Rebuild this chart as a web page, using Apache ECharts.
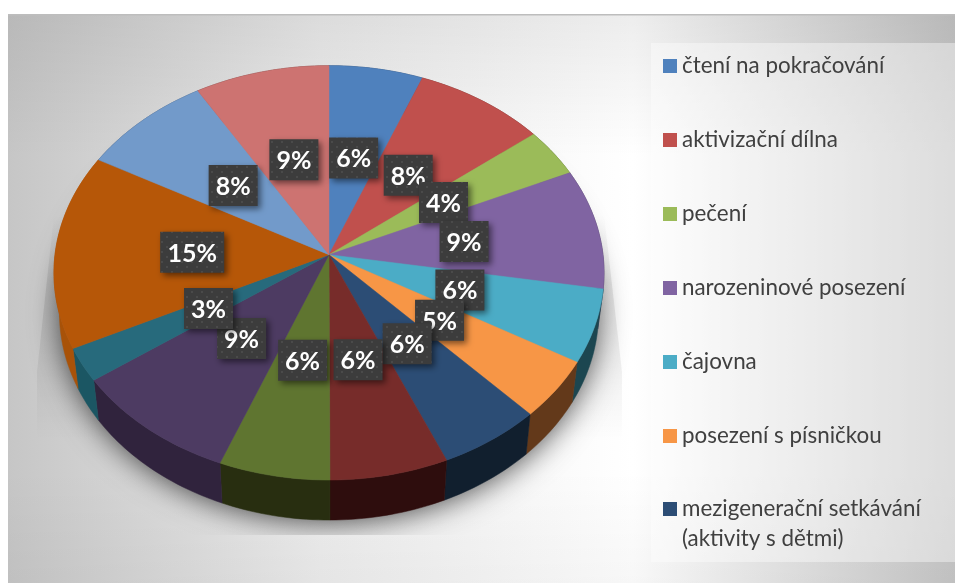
<!DOCTYPE html>
<html><head><meta charset="utf-8">
<style>html,body{margin:0;padding:0;background:#fff}#c{width:955px;height:583px}</style>
<script src="https://cdn.jsdelivr.net/npm/echarts@6/dist/echarts.min.js"></script>
</head><body><div id="c"></div>
<script>
const categories = ['čtení na pokračování','aktivizační dílna','pečení','narozeninové posezení','čajovna','posezení s písničkou','mezigenerační setkávání (aktivity s dětmi)','položka 8','položka 9','položka 10','položka 11','položka 12','položka 13','položka 14'];
const values = [6.0,8.4,3.8,9.4,5.7,4.6,5.6,6.4,6.0,9.2,2.6,15.2,8.4,8.6];
const topColors = ['#4f81bd','#c0504d','#9bbb59','#8064a2','#4bacc6','#f79646','#2c4d75','#772c2a','#5f7530','#4d3b62','#276a7c','#b65708','#729aca','#cd7371'];
const wallColors = ['#2a4566','#672b29','#536431','#453657','#1c4650','#63391a','#111f2e','#2e0d0d','#282e10','#30233d','#1b5663','#a85208','#3d5370','#6e3e3d'];

// Perspective projection of the pie disc
const CX=329, CY=254.7, A=274, B=205.6, K=0.0876, DEPTH=40, BOTTOM_SCALE=0.98;
const total = values.reduce((a,b)=>a+b,0);
const starts = values.reduce((acc,v)=>{acc.push(acc[acc.length-1]+v);return acc;},[0]);
function project(theta,r,wall){
  const X=r*Math.sin(theta), Y=-r*Math.cos(theta), w=1-K*Y;
  const dx=A*X/w, dy=B*Y/w;
  return wall ? [CX+dx*BOTTOM_SCALE, CY+dy+DEPTH] : [CX+dx, CY+dy];
}
function arcPts(t0,t1,r,wall){
  const n=Math.max(2,Math.ceil((t1-t0)/0.02)),p=[];
  for(let i=0;i<=n;i++)p.push(project(t0+(t1-t0)*i/n,r,wall));
  return p;
}
// Dotted texture of the label boxes
const tex=document.createElement('canvas');tex.width=tex.height=10;
(function(){const g=tex.getContext('2d');g.fillStyle='#3c3c3c';g.fillRect(0,0,10,10);
g.fillStyle='#4a4a4a';g.fillRect(1,1,2,2);g.fillRect(6,6,2,2);})();

function makeRender(i){
  return function(params,api){
    const v=api.value(0);
    const t0=starts[i]/total*2*Math.PI, t1=t0+v/total*2*Math.PI;
    const top=arcPts(t0,t1,1,false), bottom=arcPts(t0,t1,1,true).reverse();
    const col=topColors[i];
    const mid=project((t0+t1)/2,0.5,false);
    const bw=String(Math.round(v)).length>1?64:49, bh=41;
    return {type:'group',children:[
      {type:'polygon',z2:1,shape:{points:top.concat(bottom)},style:{fill:wallColors[i],stroke:wallColors[i],lineWidth:0.5}},
      {type:'polygon',z2:10,shape:{points:[[CX,CY]].concat(top)},style:{fill:col,stroke:col,lineWidth:0.5}},
      {type:'rect',z2:20+i*2,shape:{x:mid[0]-bw/2,y:mid[1]-bh/2,width:bw,height:bh},
        style:{fill:{image:tex,repeat:'repeat'},shadowColor:'rgba(0,0,0,0.5)',shadowBlur:6,shadowOffsetX:3,shadowOffsetY:3}},
      {type:'text',z2:21+i*2,style:{x:mid[0],y:mid[1]+1.5,text:Math.round(v)+'%',fill:'#fff',
        font:'bold 25px Lato, Carlito, sans-serif',align:'center',verticalAlign:'middle'}}
    ]};
  };
}
const series=categories.map((name,i)=>({
  type:'custom',name,coordinateSystem:'none',silent:true,animation:false,
  itemStyle:{color:topColors[i]},renderItem:makeRender(i),data:[[values[i]]]
}));

const shadowRim=arcPts(0,2*Math.PI,1,true).map(p=>[CX+(p[0]-CX)*0.995,p[1]-4]);
const legendText={color:'#404040',fontFamily:'Lato, Carlito, sans-serif',fontSize:22.4};
const bgH={type:'linear',global:true,x:8,y:0,x2:955,y2:0,colorStops:[{offset:0,color:'#c6c6c6'},{offset:0.33,color:'#ececec'},{offset:0.66,color:'#ffffff'},{offset:1,color:'#c6c6c6'}]};
const bgV={type:'linear',global:true,x:0,y:15,x2:0,y2:583,colorStops:[{offset:0,color:'rgba(0,0,0,0.07)'},{offset:0.25,color:'rgba(0,0,0,0)'},{offset:0.8,color:'rgba(0,0,0,0)'},{offset:1,color:'rgba(0,0,0,0.03)'}]};
const option={
  animation:false,
  graphic:[
    {type:'rect',z:-10,silent:true,shape:{x:8,y:15,width:947,height:568},style:{fill:bgH}},
    {type:'rect',z:-10,silent:true,shape:{x:8,y:15,width:947,height:568},style:{fill:bgV}},
    {type:'rect',z:-8,silent:true,shape:{x:8,y:14,width:947,height:1.5},style:{fill:'#bdbdbd'}},
    {type:'rect',z:-8,silent:true,shape:{x:651,y:43,width:304,height:519},style:{fill:'rgba(255,255,255,0.4)'}},
    {type:'polygon',z:-7,silent:true,shape:{points:[[54,215],[604,215],[622,372],[622,440],[37,440],[37,372]]},style:{fill:{type:'linear',x:0,y:0,x2:0,y2:1,colorStops:[{offset:0,color:'rgba(0,0,0,0)'},{offset:0.3,color:'rgba(0,0,0,0.09)'},{offset:0.65,color:'rgba(0,0,0,0.06)'},{offset:1,color:'rgba(0,0,0,0)'}]}}},
    {type:'polygon',z:-6,silent:true,shape:{points:shadowRim},style:{fill:'#888',shadowColor:'rgba(0,0,0,0.7)',shadowBlur:30,shadowOffsetY:6}},
    {type:'rect',z:-5,silent:true,shape:{x:8,y:535,width:640,height:48},style:{fill:bgH}},
    {type:'rect',z:-5,silent:true,shape:{x:8,y:535,width:640,height:48},style:{fill:bgV}}
  ],
  legend:[
    {orient:'vertical',left:663,top:54,padding:0,itemWidth:14,itemHeight:14,itemGap:50,icon:'rect',selectedMode:false,
      data:categories.slice(0,6),textStyle:Object.assign({lineHeight:24},legendText)},
    {orient:'vertical',left:663,top:464,padding:0,itemWidth:14,itemHeight:14,icon:'rect',selectedMode:false,
      data:categories.slice(6,7),formatter:()=>'\nmezigenerační setkávání\n(aktivity s dětmi)',
      textStyle:Object.assign({lineHeight:30},legendText)}
  ],
  series
};
const chart=echarts.init(document.getElementById('c'),null,{renderer:'canvas'});
chart.setOption(option);
</script></body></html>
